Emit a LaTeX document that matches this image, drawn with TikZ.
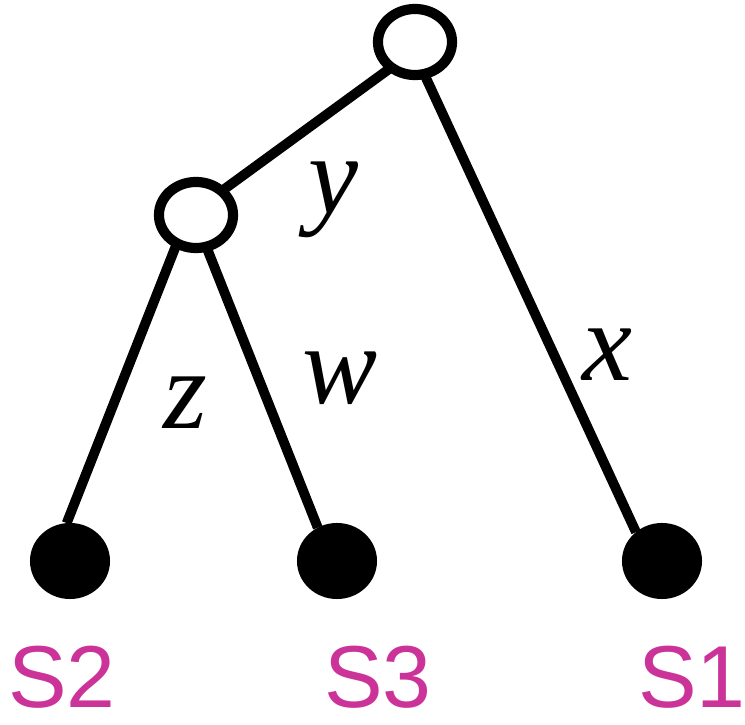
\documentclass[tikz,border=0pt]{standalone}
\usepackage{fontspec}
\setmainfont{Liberation Serif}
\newfontfamily\taxonfont{Liberation Sans}
\usepackage{tikz}
\usetikzlibrary{positioning, calc, shapes.geometric}
\definecolor{taxonpink}{RGB}{204,51,153}
\tikzset{
    innode/.style={ellipse, draw=black, fill=white, line width=2.9pt, inner sep=0pt, outer sep=0pt, minimum width=0.74cm, minimum height=0.66cm},
    leaf/.style={ellipse, fill=black, inner sep=0pt, outer sep=0pt, minimum width=0.80cm, minimum height=0.76cm},
    branch/.style={line width=2.8pt, black},
    taxon/.style={text=taxonpink, font=\taxonfont\fontsize{25}{25}\selectfont, anchor=base, inner sep=0pt},
    brlabel/.style={font=\itshape\fontsize{32}{32}\selectfont}
}
\begin{document}
\begin{tikzpicture}[x=0.01cm, y=-0.01cm]
    \useasboundingbox (0,0) rectangle (745,725);
    \node[innode] (root) at (415,42) {};
    \node[innode] (mid) at (196,215) {};
    \node[leaf] (s2) at (70,561) {};
    \node[leaf] (s3) at (337,561) {};
    \node[leaf] (s1) at (662,561) {};
    \draw[branch] (root.-133) -- (mid.43);
    \draw[branch] (root.-74) -- (s1.132);
    \draw[branch] (mid.-124) -- (s2.95);
    \draw[branch] (mid.-72) -- (s3.120);
    \node[brlabel] (ly) at (333,200) {y};
    \node[brlabel] (lw) at (340,378) {w};
    \node[brlabel] (lz) at (185,403) {z};
    \node[brlabel] (lx) at (607,355) {x};
    \node[taxon] (t2) at (62,708) {S2};
    \node[taxon] (t3) at (378,708) {S3};
    \node[taxon] (t1) at (692,708) {S1};
\end{tikzpicture}
\end{document}
